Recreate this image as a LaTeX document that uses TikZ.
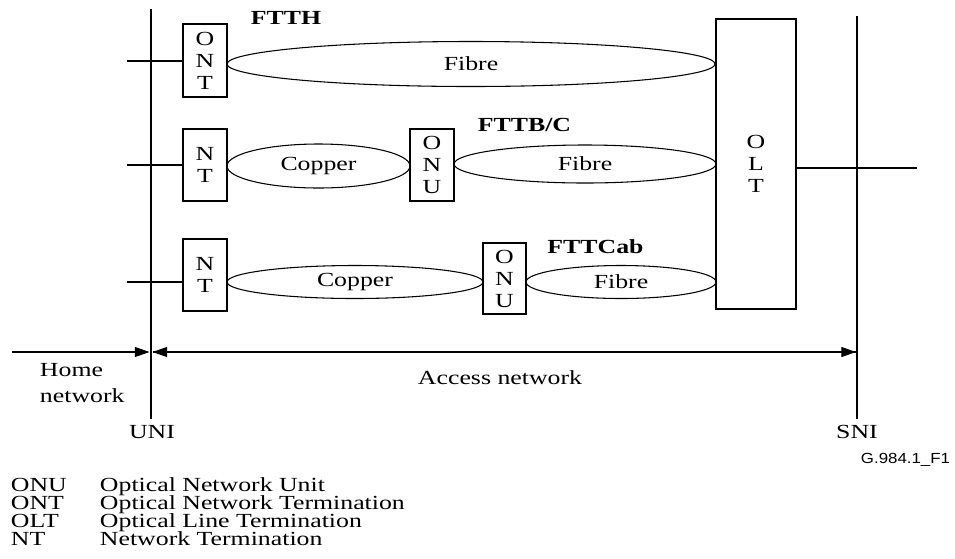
\documentclass[tikz,border=0pt]{standalone}
\usepackage{fontspec}
\setmainfont[FakeStretch=1.29]{Liberation Serif}
\newfontfamily\arialfont[FakeStretch=1.15]{Liberation Sans}
\usetikzlibrary{shapes.geometric,arrows.meta}
\begin{document}
\begin{tikzpicture}[x=0.75pt,y=-0.75pt,
  every node/.style={font=\fontsize{15}{16}\selectfont},
  box/.style={draw,rectangle,inner sep=0pt,align=center,font=\fontsize{15}{16.5}\selectfont},
  link/.style={draw,ellipse,inner sep=0pt},
  tag/.style={font=\bfseries\fontsize{15}{16}\selectfont},
  arr/.style={-{Triangle[length=11pt,width=7.5pt]}},
  line width=0.8pt]
\useasboundingbox (0,0) rectangle (955,558);
% reference lines
\coordinate (uniT) at (151,9);
\coordinate (uniB) at (151,419);
\coordinate (sniT) at (857,16);
\coordinate (sniB) at (857,419);
\draw (uniT) -- (uniB);
\draw (sniT) -- (sniB);
% OLT
\node[box,minimum width=60pt,minimum height=217.5pt] (olt) at (756,164) {O\\L\\T};
\coordinate (oltR) at (917,168);
\draw (olt.east |- oltR) -- (oltR);
% FTTH
\node[box,minimum width=33pt,minimum height=54.75pt] (ont) at (205,60.5) {O\\N\\T};
\node[link,minimum width=366pt,minimum height=33.75pt] (fib1) at (471,64) {Fibre};
\coordinate (l1) at (127,61);
\draw (l1) -- (l1 -| ont.west);
\node[tag] (ftth) at (286,18) {FTTH};
% FTTB/C
\node[box,minimum width=33pt,minimum height=54pt] (nt2) at (205,165) {N\\T};
\node[link,minimum width=137.25pt,minimum height=33pt] (cu2) at (318.5,166) {Copper};
\node[box,minimum width=33pt,minimum height=54pt] (onu2) at (432,165) {O\\N\\U};
\node[link,minimum width=196.5pt,minimum height=28.5pt] (fib2) at (585,164) {Fibre};
\coordinate (l2) at (127,165);
\draw (l2) -- (l2 -| nt2.west);
\node[tag] (fttb) at (524.5,125) {FTTB/C};
% FTTCab
\node[box,minimum width=33pt,minimum height=54pt] (nt3) at (205,275) {N\\T};
\node[link,minimum width=192pt,minimum height=24.75pt] (cu3) at (355,282) {Copper};
\node[box,minimum width=32.25pt,minimum height=53.25pt] (onu3) at (504.5,278.5) {O\\N\\U};
\node[link,minimum width=142.5pt,minimum height=24.75pt] (fib3) at (621,282) {Fibre};
\coordinate (l3) at (127,282);
\draw (l3) -- (l3 -| nt3.west);
\node[tag] (fttc) at (595.5,247) {FTTCab};
% arrows
\coordinate (hL) at (12,352);
\coordinate (hR) at (149.5,352);
\coordinate (aL) at (152.5,352);
\coordinate (aR) at (856,352);
\draw[arr] (hL) -- (hR);
\draw[arr] (aR) -- (aL);
\draw[arr] (aL) -- (aR);
\node[anchor=west,align=left,font=\fontsize{15}{20}\selectfont] (home) at (35,383) {Home\\network};
\node[anchor=base west] (acc) at (413,384) {Access network};
\node[anchor=base] (uni) at (152,438) {UNI};
\node[anchor=base] (sni) at (857,438) {SNI};
\node[anchor=base east,font=\arialfont\fontsize{11}{12}\selectfont] (fig) at (955,463) {G.984.1\_F1};
% legend
\node[anchor=base west] (k1) at (6,491) {ONU};
\node[anchor=base west] (k2) at (6,509) {ONT};
\node[anchor=base west] (k3) at (6,527) {OLT};
\node[anchor=base west] (k4) at (6,545) {NT};
\node[anchor=base west] (d1) at (95,491) {Optical Network Unit};
\node[anchor=base west] (d2) at (95,509) {Optical Network Termination};
\node[anchor=base west] (d3) at (95,527) {Optical Line Termination};
\node[anchor=base west] (d4) at (95,545) {Network Termination};
\end{tikzpicture}
\end{document}
